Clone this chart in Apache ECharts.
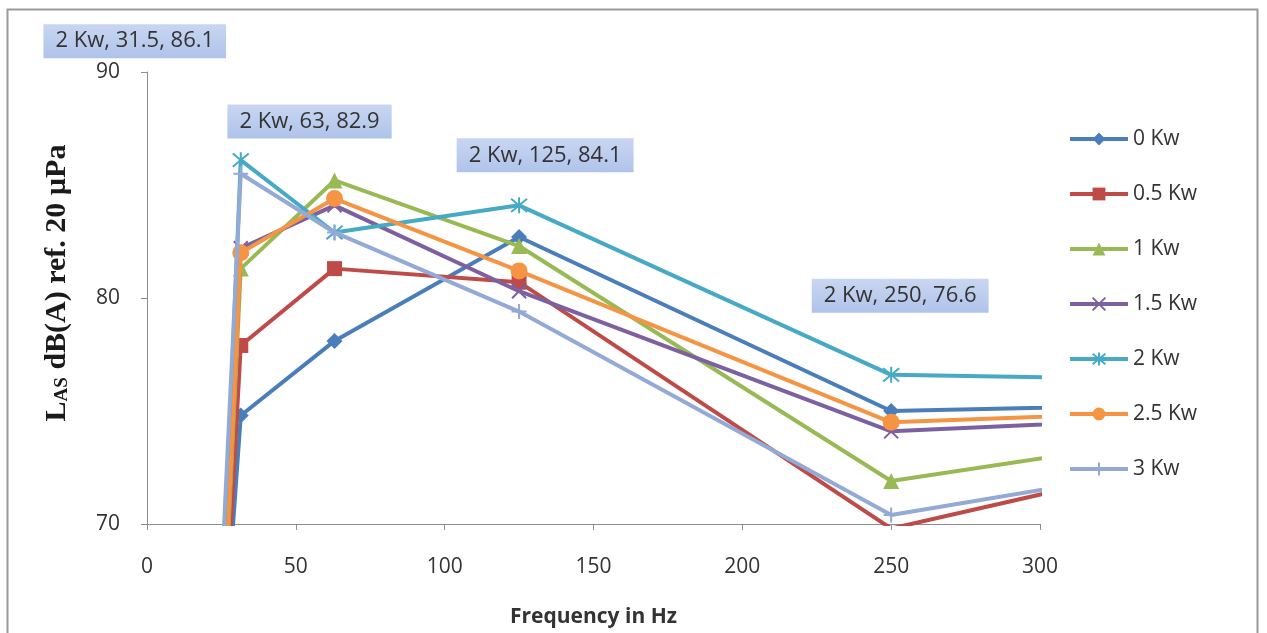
<!DOCTYPE html>
<html>
<head>
<meta charset="utf-8">
<script src="https://cdn.jsdelivr.net/npm/echarts@6/dist/echarts.min.js"></script>
<style>
  html, body { margin: 0; padding: 0; background: #ffffff; }
  #chart { width: 1267px; height: 633px; }
</style>
</head>
<body>
<div id="chart"></div>
<script>
// Octave band centre frequencies (Hz)
const frequencies = [16, 31.5, 63, 125, 250, 500];

// Sound level LAS dB(A) per generator load
const seriesNames = ['0 Kw', '0.5 Kw', '1 Kw', '1.5 Kw', '2 Kw', '2.5 Kw', '3 Kw'];
const load0   = [46.0, 74.8, 78.1, 82.7, 75.0, 75.7];
const load05  = [41.0, 77.9, 81.3, 80.7, 69.8, 77.3];
const load1   = [38.0, 81.3, 85.2, 82.3, 71.9, 76.9];
const load15  = [38.0, 82.2, 84.1, 80.3, 74.1, 75.6];
const load2   = [36.5, 86.1, 82.9, 84.1, 76.6, 76.1];
const load25  = [38.0, 82.0, 84.4, 81.2, 74.5, 75.7];
const load3   = [42.5, 85.5, 82.9, 79.4, 70.4, 75.9];

const xTicks = [0, 50, 100, 150, 200, 250, 300];
const yTicks = [70, 80, 90];

// Callout points of the 2 Kw series (frequency indices)
const calloutIndices = [1, 2, 3, 4];

const allValues = [load0, load05, load1, load15, load2, load25, load3];
const colors = ['#4a7ebb', '#be4b48', '#98b954', '#7d60a0', '#46aac5', '#f59443', '#93a9d6'];

const xPath = 'path://M0,0L10,10M10,0L0,10';
const starPath = 'path://M0,0L10,10M10,0L0,10M5,-1L5,11';
const plusPath = 'path://M5,0L5,10M0,5L10,5';
const symbols = ['diamond', 'rect', 'triangle', xPath, starPath, 'circle', plusPath];
const symbolSizes = [16, 15, 16, 14, 16, 17, 15];
const strokeOnly = [false, false, false, true, true, false, true];

// Per-callout label offsets from the point centre
const calloutOffsets = {1: [-106, -119], 2: [-25, -111], 3: [26, -50], 4: [9, -79]};

function buildData(values, name) {
  return values.map((v, i) => {
    const item = { value: [frequencies[i], v] };
    if (name === '2 Kw' && calloutIndices.includes(i)) {
      item.label = {
        show: true,
        position: 'inside',
        offset: calloutOffsets[i],
        formatter: name + ', ' + frequencies[i] + ', ' + v.toFixed(1),
        fontFamily: 'Open Sans',
        fontSize: 22,
        lineHeight: 24,
        color: '#333333',
        padding: [5, 12, 5, 12],
        backgroundColor: {
          type: 'linear', x: 0, y: 0, x2: 0, y2: 1,
          colorStops: [{ offset: 0, color: '#c9d6f1' }, { offset: 1, color: '#afc3ea' }]
        }
      };
    }
    return item;
  });
}

const series = seriesNames.map((name, k) => ({
  name: name,
  type: 'line',
  clip: true,
  data: buildData(allValues[k], name),
  symbol: symbols[k],
  symbolSize: symbolSizes[k],
  showAllSymbol: true,
  lineStyle: { color: colors[k], width: 4 },
  itemStyle: strokeOnly[k]
    ? { color: colors[k], borderColor: colors[k], borderWidth: 2 }
    : { color: colors[k], borderColor: colors[k], borderWidth: 0 },
  emphasis: { disabled: true },
  z: 2 + k
}));

const chart = echarts.init(document.getElementById('chart'), null, { renderer: 'canvas' });
chart.setOption({
  animation: false,
  backgroundColor: '#ffffff',
  color: colors,
  grid: { left: 147, right: 227, top: 72, bottom: 107, containLabel: false },
  xAxis: {
    type: 'value',
    min: xTicks[0],
    max: xTicks[xTicks.length - 1],
    interval: 50,
    name: 'Frequency in Hz',
    nameLocation: 'middle',
    nameGap: 83,
    nameTextStyle: { fontFamily: 'Open Sans', fontWeight: 'bold', fontSize: 21, color: '#333333' },
    axisLine: { show: true, lineStyle: { color: '#8c8c8c', width: 1 } },
    axisTick: { show: true, length: 6, lineStyle: { color: '#8c8c8c' } },
    axisLabel: { fontFamily: 'Open Sans', fontSize: 21, color: '#333333', margin: 33 },
    splitLine: { show: false }
  },
  yAxis: {
    type: 'value',
    min: yTicks[0],
    max: yTicks[yTicks.length - 1],
    interval: 10,
    axisLine: { show: true, lineStyle: { color: '#8c8c8c', width: 1 } },
    axisTick: { show: true, length: 6, lineStyle: { color: '#8c8c8c' } },
    axisLabel: { fontFamily: 'Open Sans', fontSize: 21, color: '#333333', margin: 27 },
    splitLine: { show: false }
  },
  legend: {
    orient: 'vertical',
    left: 1063,
    top: 123,
    itemWidth: 58,
    itemHeight: 16,
    itemGap: 33,
    data: seriesNames,
    lineStyle: { width: 4 },
    textStyle: { fontFamily: 'Open Sans', fontSize: 21, color: '#333333', lineHeight: 22 }
  },
  graphic: [
    {
      type: 'rect',
      shape: { x: 7.5, y: 9.5, width: 1250, height: 640 },
      style: { fill: 'none', stroke: '#9a9a9a', lineWidth: 2 },
      silent: true,
      z: -1
    },
    {
      type: 'text',
      x: 57,
      y: 283,
      rotation: Math.PI / 2,
      style: {
        text: '{big|L}{small|AS}{big| dB(A) ref. 20 µPa}',
        align: 'center',
        verticalAlign: 'middle',
        rich: {
          big: { fontFamily: 'Liberation Serif', fontWeight: 'bold', fontSize: 30, fill: '#1a1a1a' },
          small: { fontFamily: 'Liberation Serif', fontWeight: 'bold', fontSize: 19, fill: '#1a1a1a', verticalAlign: 'bottom' }
        }
      },
      silent: true
    }
  ],
  series: series
});
</script>
</body>
</html>
